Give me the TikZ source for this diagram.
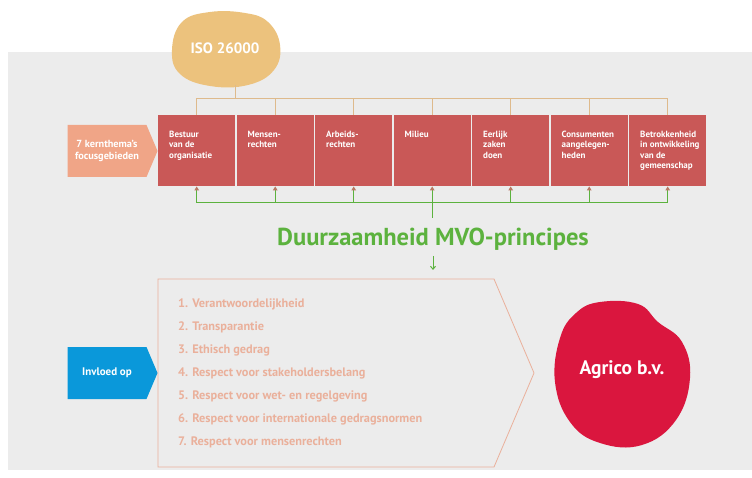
\documentclass[tikz,border=0pt]{standalone}
\usepackage{fontspec}
\setmainfont{PT Sans}
\usepackage{xcolor}
\definecolor{isotan}{RGB}{236,194,125}
\definecolor{isoline}{RGB}{222,186,140}
\definecolor{themared}{RGB}{201,88,87}
\definecolor{themasalmon}{RGB}{240,165,135}
\definecolor{mvogreen}{RGB}{92,178,62}
\definecolor{tipbrown}{RGB}{185,120,100}
\definecolor{princsalmon}{RGB}{234,176,155}
\definecolor{invloedblue}{RGB}{10,152,218}
\definecolor{agricored}{RGB}{218,22,62}
\definecolor{bggray}{RGB}{236,236,236}
\usepackage{tikz}
\usetikzlibrary{calc}
\usetikzlibrary{arrows.meta}
\usetikzlibrary{shapes.symbols}
\newcommand{\widththema}{77pt}
\newcommand{\pitchthema}{78.5pt}
\newcommand{\pitchprinc}{23}
\newcommand{\thematext}[1]{\parbox[t][39pt][t]{55pt}{\raggedright\hyphenpenalty=10000 #1}}
\newcommand{\sidetext}[1]{\begin{tabular}{@{}c@{}}#1\end{tabular}\hspace{12pt}}
\tikzset{
    thema/.style={anchor=north west, fill=themared, minimum width=\widththema, minimum height=71pt,
        text=white, font=\bfseries\fontsize{9}{10.3}\selectfont,
        inner xsep=11pt, inner ysep=16pt},
    sidearrow/.style={signal, signal to=east, signal pointer angle=134, minimum width=90pt,
        minimum height=52pt, text=white, inner sep=0pt},
    princ/.style={anchor=west, text=princsalmon, font=\bfseries\fontsize{12.3}{14}\selectfont, inner sep=0pt},
    isolink/.style={isoline, line width=0.8pt},
    mvolink/.style={mvogreen, line width=1pt},
    upto/.style={mvolink, -{Triangle[length=4pt, width=4.5pt, color=tipbrown]}}
}

\begin{document}
\begin{tikzpicture}[x=1pt, y=-1pt]
  \useasboundingbox (0,0) rectangle (752,478);
  \fill[white] (0,0) rectangle (752,478);
  \fill[bggray] (8,52) rectangle (752,470);

  % ISO blob
  \fill[isotan] plot[smooth cycle, tension=0.7] coordinates {(182,22) (210,12) (245,13) (268,22) (280,45)
      (274,70) (248,85) (210,86) (180,74) (172,50)};
  \node[text=white, font=\bfseries\fontsize{15}{17}\selectfont] (iso) at (225,48) {ISO 26000};
  \coordinate (isobot) at (235,85);

  % kernthema's
  \node[sidearrow, fill=themasalmon, font=\bfseries\fontsize{10.3}{12}\selectfont] (focus) at (107,151)
      {\sidetext{7 kernthema's\\focusgebieden}};
  \path (158,115)
      node[thema] (T1) {\thematext{Bestuur\\van de\\organisatie}}
      ++(0:\pitchthema) node[thema] (T2) {\thematext{Mensen-\\rechten}}
      ++(0:\pitchthema) node[thema] (T3) {\thematext{Arbeids-\\rechten}}
      ++(0:\pitchthema) node[thema] (T4) {\thematext{Milieu}}
      ++(0:\pitchthema) node[thema] (T5) {\thematext{Eerlijk\\zaken\\doen}}
      ++(0:\pitchthema) node[thema] (T6) {\thematext{Consumenten\\aangelegen-\\heden}}
      ++(0:\pitchthema) node[thema] (T7) {\thematext{Betrokkenheid\\\mbox{in ontwikkeling}\\van de\\gemeenschap}};

  % ISO lines
  \coordinate (isobus) at (0,98);
  \draw[isolink] (isobot) -- (isobot |- isobus);
  \draw[isolink] (T1.north) |- (isobus -| T7.north) -- (T7.north);
  \foreach \k in {2,...,6}
      \draw[isolink] (T\k.north) -- (T\k.north |- isobus);

  % MVO lines
  \coordinate (mvobus) at (0,203);
  \draw[mvolink] (T1.south |- mvobus) -- (T7.south |- mvobus);
  \foreach \k in {1,...,7}
      \draw[upto] (T\k.south |- mvobus) -- (T\k.south);
  \node[text=mvogreen, font=\bfseries\fontsize{24.5}{27}\selectfont] (mvo) at (433,239) {Duurzaamheid MVO-principes};
  \draw[mvolink] (T4.south |- mvobus) -- (T4.south |- 0,218);
  \coordinate (princtop) at (433,270);
  \draw[mvolink, -{Straight Barb[length=3pt, width=5pt]}] (433,256) -- (princtop);

  % principes
  \draw[princsalmon, line width=0.8pt] (158,279) -- (494,279) -- (534,373) -- (494,467) -- (158,467) -- cycle;
  \path (178,304)
      node[princ] (P1) {1. Verantwoordelijkheid}
      ++(0,\pitchprinc) node[princ] (P2) {2. Transparantie}
      ++(0,\pitchprinc) node[princ] (P3) {3. Ethisch gedrag}
      ++(0,\pitchprinc) node[princ] (P4) {4. Respect voor stakeholdersbelang}
      ++(0,\pitchprinc) node[princ] (P5) {5. Respect voor wet- en regelgeving}
      ++(0,\pitchprinc) node[princ] (P6) {6. Respect voor internationale gedragsnormen}
      ++(0,\pitchprinc) node[princ] (P7) {7. Respect voor mensenrechten};

  \node[sidearrow, fill=invloedblue, font=\bfseries\fontsize{11}{13}\selectfont] (invloed) at (107,373)
      {\sidetext{Invloed op}};

  % Agrico blob
  \fill[agricored] plot[smooth cycle, tension=0.7] coordinates {(600,302) (638,304) (658,322) (682,342)
      (690,378) (676,420) (642,445) (600,443) (570,422) (555,382) (560,338) (576,313)};
  \node[text=white, font=\bfseries\fontsize{19.5}{22}\selectfont] (agrico) at (622,370) {Agrico b.v.};
\end{tikzpicture}
\end{document}
